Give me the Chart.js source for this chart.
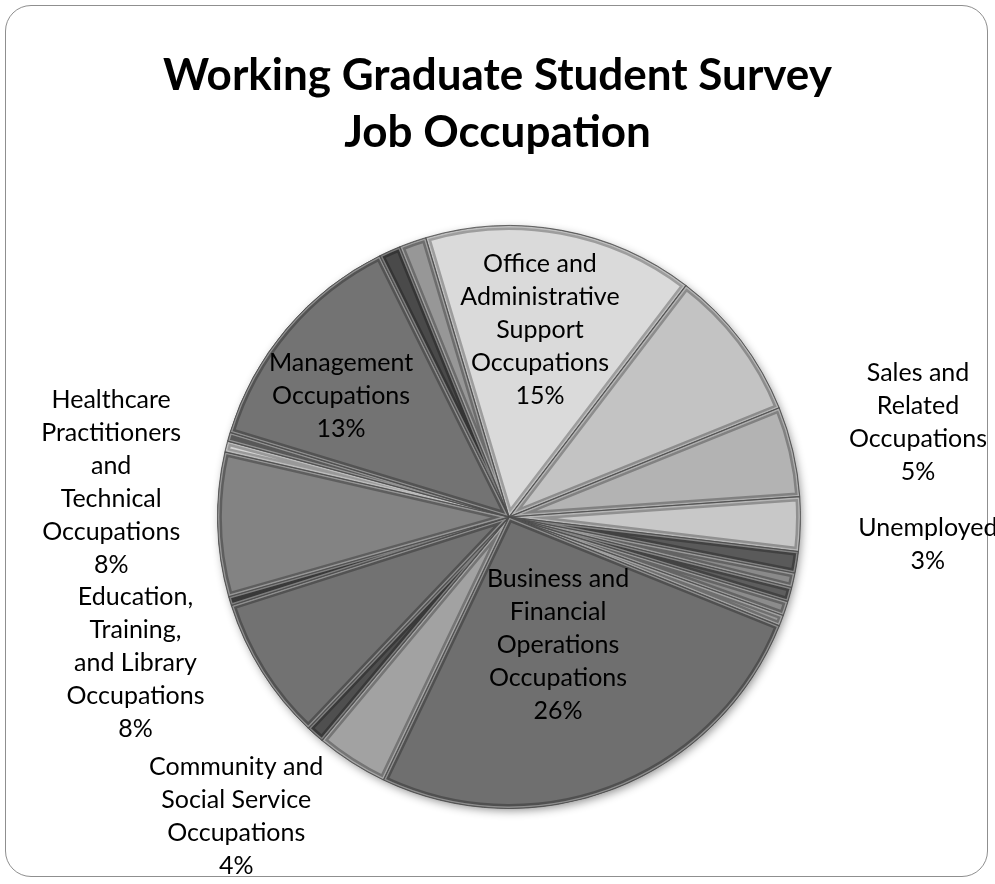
<!DOCTYPE html>
<html>
<head>
<meta charset="utf-8">
<title>Working Graduate Student Survey - Job Occupation</title>
<script src="https://cdn.jsdelivr.net/npm/chart.js@4.4.1/dist/chart.umd.min.js"></script>
<style>
    html, body {
        margin: 0;
        padding: 0;
        background: #ffffff;
        overflow: hidden;
    }
    .frame {
        position: absolute;
        left: 5px;
        top: 5px;
        width: 983px;
        height: 872px;
        border: 1.5px solid #8f8f8f;
        border-radius: 26px;
        box-sizing: border-box;
    }
    .chart-title {
        position: absolute;
        left: 0;
        top: 45px;
        width: 995px;
        text-align: center;
        font-family: 'Lato', 'Open Sans', sans-serif;
        font-weight: bold;
        font-size: 44px;
        line-height: 57px;
        color: #000;
    }
    #jobChart {
        position: absolute;
        left: 0;
        top: 0;
    }
</style>
</head>
<body>
<div class="frame"></div>
<canvas id="jobChart" width="995" height="884"></canvas>
<div class="chart-title">Working Graduate Student Survey<br>Job Occupation</div>

<script>
// Slices in clockwise order from the start angle. Empty names are the small
// slices that carry no data label.
const occupations = [
    ['Office and', 'Administrative', 'Support', 'Occupations'],
    '',
    ['Sales and', 'Related', 'Occupations'],
    ['Unemployed'],
    '', '', '', '', '',
    ['Business and', 'Financial', 'Operations', 'Occupations'],
    ['Community and', 'Social Service', 'Occupations'],
    '',
    ['Education,', 'Training,', 'and Library', 'Occupations'],
    '',
    ['Healthcare', 'Practitioners', 'and', 'Technical', 'Occupations'],
    '', '',
    ['Management', 'Occupations'],
    '', ''
];

// Share of respondents (%)
const shares = [
    15, 8.5, 5, 3,
    1.2, 0.8, 0.8, 0.8, 0.6,
    26, 4, 1, 8, 0.5, 8,
    0.6, 0.5, 13, 1.2, 1.5
];

const sliceColors = [
    '#dadada', '#c3c3c3', '#b3b3b3', '#c8c8c8',
    '#5a5a5a', '#8a8a8a', '#5e5e5e', '#8c8c8c', '#9a9a9a',
    '#6f6f6f', '#a2a2a2', '#4f4f4f', '#727272', '#505050', '#838383',
    '#d4d4d4', '#7a7a7a', '#737373', '#4a4a4a', '#979797'
];

// Where each data label sits: angle shift from slice middle (deg) and
// distance as a fraction of the radius
const labelPlacement = {
    0: { shift: -1, dist: 0.65 },
    2: { shift: 0, dist: 1.44 },
    3: { shift: 2.4, dist: 1.44 },
    9: { shift: 0.3, dist: 0.47 },
    10: { shift: 9.6, dist: 1.39 },
    12: { shift: 10.7, dist: 1.376 },
    14: { shift: 6.5, dist: 1.37 },
    17: { shift: -4.5, dist: 0.71 }
};

const LABEL_FONT = "25px 'Lato', 'Open Sans', sans-serif";
const LINE_HEIGHT = 33;

function arcPath(ctx, arc) {
    ctx.beginPath();
    ctx.moveTo(arc.x, arc.y);
    ctx.arc(arc.x, arc.y, arc.outerRadius, arc.startAngle, arc.endAngle);
    ctx.closePath();
}

// Soft drop shadow under the whole pie
const pieShadow = {
    id: 'pieShadow',
    beforeDatasetsDraw(chart) {
        const arc = chart.getDatasetMeta(0).data[0];
        if (!arc) return;
        const ctx = chart.ctx;
        ctx.save();
        ctx.shadowColor = 'rgba(0, 0, 0, 0.45)';
        ctx.shadowBlur = 10;
        ctx.shadowOffsetX = 2;
        ctx.shadowOffsetY = 3;
        ctx.fillStyle = '#777';
        ctx.beginPath();
        ctx.arc(arc.x, arc.y, arc.outerRadius - 1, 0, Math.PI * 2);
        ctx.fill();
        ctx.restore();
    }
};

// Rounded bevel on each slice: dark rim plus a light inner line
const sliceBevel = {
    id: 'sliceBevel',
    afterDatasetsDraw(chart) {
        const ctx = chart.ctx;
        chart.getDatasetMeta(0).data.forEach(arc => {
            ctx.save();
            arcPath(ctx, arc);
            ctx.clip();
            arcPath(ctx, arc);
            ctx.lineJoin = 'round';
            ctx.strokeStyle = 'rgba(0, 0, 0, 0.28)';
            ctx.lineWidth = 9;
            ctx.stroke();
            ctx.strokeStyle = 'rgba(255, 255, 255, 0.35)';
            ctx.lineWidth = 4;
            ctx.stroke();
            ctx.strokeStyle = 'rgba(40, 40, 40, 0.6)';
            ctx.lineWidth = 1.2;
            ctx.stroke();
            ctx.restore();
        });
    }
};

// Category name and percentage for the labelled slices
const sliceLabels = {
    id: 'sliceLabels',
    afterDraw(chart) {
        const ctx = chart.ctx;
        const meta = chart.getDatasetMeta(0);
        const total = shares.reduce((a, b) => a + b, 0);
        ctx.save();
        ctx.font = LABEL_FONT;
        ctx.fillStyle = '#000';
        ctx.textAlign = 'center';
        ctx.textBaseline = 'middle';
        Object.keys(labelPlacement).forEach(key => {
            const i = Number(key);
            const arc = meta.data[i];
            const place = labelPlacement[i];
            const mid = (arc.startAngle + arc.endAngle) / 2 + place.shift * Math.PI / 180;
            const cx = arc.x + Math.cos(mid) * arc.outerRadius * place.dist;
            const cy = arc.y + Math.sin(mid) * arc.outerRadius * place.dist;
            const lines = occupations[i].concat(Math.round(shares[i] / total * 100) + '%');
            const top = cy - (lines.length - 1) * LINE_HEIGHT / 2;
            lines.forEach((line, n) => {
                ctx.fillText(line, cx, top + n * LINE_HEIGHT);
            });
        });
        ctx.restore();
    }
};

const ctxJob = document.getElementById('jobChart').getContext('2d');
new Chart(ctxJob, {
    type: 'pie',
    data: {
        labels: occupations,
        datasets: [{
            data: shares,
            backgroundColor: sliceColors,
            borderColor: 'rgba(60, 60, 60, 0.7)',
            borderWidth: 1
        }]
    },
    options: {
        responsive: false,
        animation: false,
        rotation: -16.6,
        layout: {
            padding: { left: 217, right: 194, top: 225, bottom: 75 }
        },
        plugins: {
            legend: { display: false },
            tooltip: { enabled: false }
        }
    },
    plugins: [pieShadow, sliceBevel, sliceLabels]
});
</script>
</body>
</html>
